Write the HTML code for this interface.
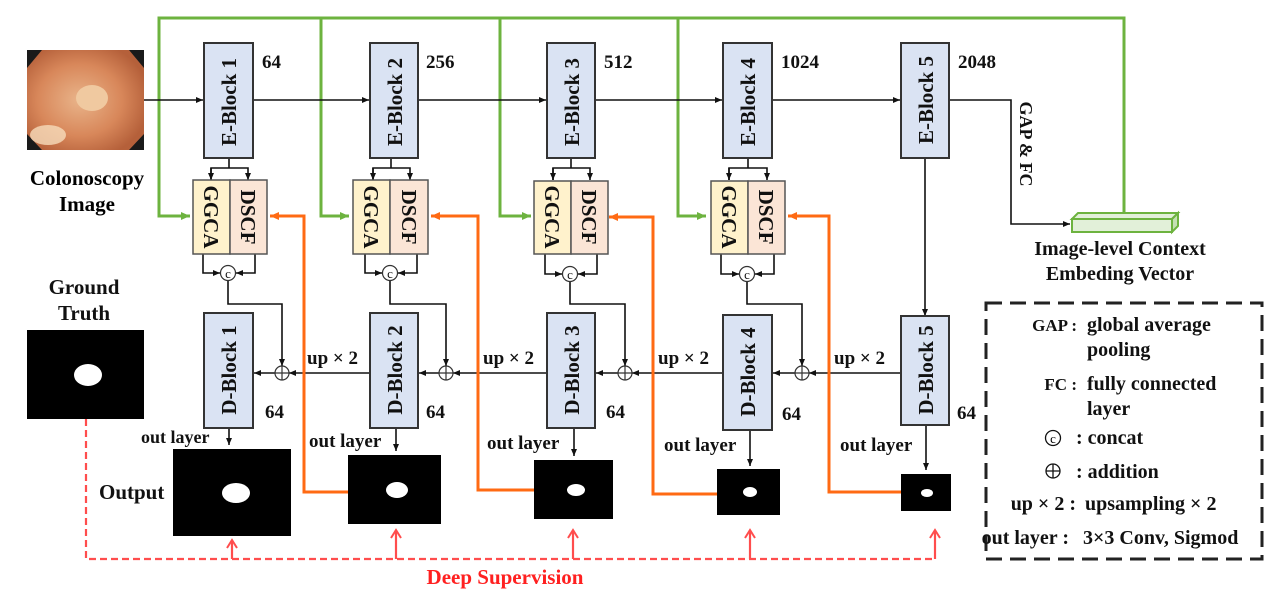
<!DOCTYPE html>
<html><head><meta charset="utf-8"><style>
html,body{margin:0;padding:0;background:#fff;}
svg{display:block;font-family:"Liberation Serif",serif;font-weight:bold;}
</style></head><body>
<svg width="1288" height="594" viewBox="0 0 1288 594" xmlns="http://www.w3.org/2000/svg">
<defs>
<marker id="ab" markerWidth="8" markerHeight="8" refX="7" refY="4" orient="auto" markerUnits="userSpaceOnUse"><path d="M0,1 L7,4 L0,7 z" fill="#111"/></marker>
<marker id="ag" markerWidth="10" markerHeight="10" refX="9" refY="5" orient="auto" markerUnits="userSpaceOnUse"><path d="M0,1 L9,5 L0,9 z" fill="#6db33f"/></marker>
<marker id="ao" markerWidth="10" markerHeight="10" refX="9" refY="5" orient="auto" markerUnits="userSpaceOnUse"><path d="M0,1 L9,5 L0,9 z" fill="#ff6a13"/></marker>
<marker id="ar" markerWidth="12" markerHeight="12" refX="10" refY="6" orient="auto" markerUnits="userSpaceOnUse"><path d="M2,1 L10,6 L2,11" fill="none" stroke="#ff4d4d" stroke-width="2"/></marker>
<radialGradient id="colo" cx="0.45" cy="0.5" r="0.6"><stop offset="0" stop-color="#e9b48a"/><stop offset="0.6" stop-color="#d8875a"/><stop offset="1" stop-color="#b5603a"/></radialGradient>
</defs>

<rect x="27" y="50" width="117" height="100" fill="#1a1a1a"/>
<path d="M42,50 L129,50 L144,68 L144,134 L129,150 L42,150 L27,134 L27,68 z" fill="url(#colo)"/>
<ellipse cx="92" cy="98" rx="16" ry="13" fill="#f0c9a0"/>
<ellipse cx="48" cy="135" rx="18" ry="10" fill="#f6dcbc" opacity="0.8"/>
<text x="87" y="185" font-size="21" text-anchor="middle">Colonoscopy</text>
<text x="87" y="211" font-size="21" text-anchor="middle">Image</text>

<g fill="none" stroke="#6db33f" stroke-width="3">
<polyline points="1124,213 1124,18 159,18 159,216 190,216" marker-end="url(#ag)"/>
<polyline points="321,18 321,216 349,216" marker-end="url(#ag)"/>
<polyline points="500,18 500,216 531,216" marker-end="url(#ag)"/>
<polyline points="678,18 678,216 706,216" marker-end="url(#ag)"/>
</g>

<g fill="none" stroke="#111" stroke-width="1.6">
<line x1="144" y1="100" x2="203" y2="100" marker-end="url(#ab)"/>
<line x1="253" y1="100" x2="369" y2="100" marker-end="url(#ab)"/>
<line x1="418" y1="100" x2="546" y2="100" marker-end="url(#ab)"/>
<line x1="595" y1="100" x2="722" y2="100" marker-end="url(#ab)"/>
<line x1="772" y1="100" x2="900" y2="100" marker-end="url(#ab)"/>
<polyline points="949,100 1011,100 1011,224 1070,224" marker-end="url(#ab)"/>
<line x1="925" y1="158" x2="925" y2="316" marker-end="url(#ab)"/>
</g>

<g stroke="#111" stroke-width="1.6" fill="none">
<polyline points="229,158 229,168"/><polyline points="211,180 211,168 248,168 248,180" marker-end="url(#ab)"/><line x1="211" y1="168" x2="211" y2="180" marker-end="url(#ab)"/>
<polyline points="203,254 203,273 220,273" marker-end="url(#ab)"/><polyline points="255,254 255,273 236,273" marker-end="url(#ab)"/>
<polyline points="228,281 228,304 282,304 282,366" marker-end="url(#ab)"/>
<polyline points="391,158 391,168"/><polyline points="373,180 373,168 410,168 410,180" marker-end="url(#ab)"/><line x1="373" y1="168" x2="373" y2="180" marker-end="url(#ab)"/>
<polyline points="365,254 365,273 382,273" marker-end="url(#ab)"/><polyline points="417,254 417,273 398,273" marker-end="url(#ab)"/>
<polyline points="390,281 390,304 446,304 446,366" marker-end="url(#ab)"/>
<polyline points="571,158 571,168"/><polyline points="553,180 553,168 590,168 590,180" marker-end="url(#ab)"/><line x1="553" y1="168" x2="553" y2="180" marker-end="url(#ab)"/>
<polyline points="545,254 545,274 562,274" marker-end="url(#ab)"/><polyline points="597,254 597,274 578,274" marker-end="url(#ab)"/>
<polyline points="570,282 570,304 625,304 625,366" marker-end="url(#ab)"/>
<polyline points="748,158 748,168"/><polyline points="729,180 729,168 767,168 767,180" marker-end="url(#ab)"/><line x1="729" y1="168" x2="729" y2="180" marker-end="url(#ab)"/>
<polyline points="721,254 721,274 739,274" marker-end="url(#ab)"/><polyline points="774,254 774,274 755,274" marker-end="url(#ab)"/>
<polyline points="747,282 747,304 802,304 802,366" marker-end="url(#ab)"/>
<line x1="901" y1="373" x2="809" y2="373" marker-end="url(#ab)"/>
<line x1="795" y1="373" x2="773" y2="373" marker-end="url(#ab)"/>
<line x1="723" y1="373" x2="632" y2="373" marker-end="url(#ab)"/>
<line x1="618" y1="373" x2="596" y2="373" marker-end="url(#ab)"/>
<line x1="547" y1="373" x2="453" y2="373" marker-end="url(#ab)"/>
<line x1="439" y1="373" x2="419" y2="373" marker-end="url(#ab)"/>
<line x1="370" y1="373" x2="289" y2="373" marker-end="url(#ab)"/>
<line x1="275" y1="373" x2="254" y2="373" marker-end="url(#ab)"/>
<line x1="229" y1="428" x2="229" y2="445" marker-end="url(#ab)"/>
<line x1="396" y1="428" x2="396" y2="451" marker-end="url(#ab)"/>
<line x1="574" y1="428" x2="574" y2="456" marker-end="url(#ab)"/>
<line x1="750" y1="430" x2="750" y2="466" marker-end="url(#ab)"/>
<line x1="926" y1="425" x2="926" y2="470" marker-end="url(#ab)"/>
</g>

<g fill="#fff" stroke="#333" stroke-width="1.2">
<circle cx="228" cy="273" r="7.5"/><circle cx="390" cy="273" r="7.5"/><circle cx="570" cy="274" r="7.5"/><circle cx="747" cy="274" r="7.5"/>
</g>
<g font-size="13" text-anchor="middle" font-weight="normal" fill="#111">
<text x="228" y="278">c</text><text x="390" y="278">c</text><text x="570" y="279">c</text><text x="747" y="279">c</text>
</g>
<g fill="#fff" stroke="#333" stroke-width="1.2">
<circle cx="282" cy="373" r="7"/><circle cx="446" cy="373" r="7"/><circle cx="625" cy="373" r="7"/><circle cx="802" cy="373" r="7"/>
<path d="M275,373h14M282,366v14M439,373h14M446,366v14M618,373h14M625,366v14M795,373h14M802,366v14"/>
</g>

<g fill="none" stroke="#ff6a13" stroke-width="3">
<polyline points="348,492 304,492 304,216 270,216" marker-end="url(#ao)"/>
<polyline points="535,490 478,490 478,216 431,216" marker-end="url(#ao)"/>
<polyline points="717,494 653,494 653,217 609,217" marker-end="url(#ao)"/>
<polyline points="902,492 829,492 829,216 788,216" marker-end="url(#ao)"/>
</g>

<g fill="#dae3f3" stroke="#333" stroke-width="2">
<rect x="204" y="43" width="49" height="115"/><rect x="370" y="43" width="48" height="115"/>
<rect x="547" y="43" width="48" height="115"/><rect x="723" y="43" width="49" height="115"/>
<rect x="901" y="43" width="48" height="115"/>
<rect x="204" y="313" width="49" height="115"/><rect x="370" y="313" width="48" height="115"/>
<rect x="547" y="313" width="48" height="115"/><rect x="723" y="315" width="49" height="115"/>
<rect x="901" y="316" width="48" height="109"/>
</g>
<g font-size="21" text-anchor="middle" fill="#111">
<text transform="translate(236,102) rotate(-90)">E-Block 1</text>
<text transform="translate(402,102) rotate(-90)">E-Block 2</text>
<text transform="translate(579,102) rotate(-90)">E-Block 3</text>
<text transform="translate(755,102) rotate(-90)">E-Block 4</text>
<text transform="translate(933,100) rotate(-90)">E-Block 5</text>
<text transform="translate(236,370) rotate(-90)">D-Block 1</text>
<text transform="translate(402,370) rotate(-90)">D-Block 2</text>
<text transform="translate(579,370) rotate(-90)">D-Block 3</text>
<text transform="translate(755,372) rotate(-90)">D-Block 4</text>
<text transform="translate(933,370) rotate(-90)">D-Block 5</text>
</g>

<g stroke="#555" stroke-width="1.5">
<rect x="193" y="180" width="37" height="74" fill="#fff2cc"/><rect x="230" y="180" width="37" height="74" fill="#fbe5d6"/>
<rect x="353" y="180" width="37" height="74" fill="#fff2cc"/><rect x="390" y="180" width="38" height="74" fill="#fbe5d6"/>
<rect x="534" y="181" width="37" height="73" fill="#fff2cc"/><rect x="571" y="181" width="37" height="73" fill="#fbe5d6"/>
<rect x="711" y="181" width="37" height="73" fill="#fff2cc"/><rect x="748" y="181" width="37" height="73" fill="#fbe5d6"/>
</g>
<g font-size="21" text-anchor="middle" fill="#111">
<text transform="translate(204,217) rotate(90)">GGCA</text><text transform="translate(241,217) rotate(90)">DSCF</text>
<text transform="translate(364,217) rotate(90)">GGCA</text><text transform="translate(402,217) rotate(90)">DSCF</text>
<text transform="translate(545,217) rotate(90)">GGCA</text><text transform="translate(582,217) rotate(90)">DSCF</text>
<text transform="translate(722,217) rotate(90)">GGCA</text><text transform="translate(759,217) rotate(90)">DSCF</text>
<text transform="translate(1020,144) rotate(90)" font-size="18">GAP &amp; FC</text>
</g>

<g font-size="19" fill="#111">
<text x="262" y="68">64</text><text x="426" y="68">256</text><text x="604" y="68">512</text><text x="781" y="68">1024</text><text x="958" y="68">2048</text>
<text x="265" y="418">64</text><text x="426" y="418">64</text><text x="606" y="418">64</text><text x="782" y="420">64</text><text x="957" y="419">64</text>
<text x="307" y="364">up × 2</text><text x="483" y="364">up × 2</text><text x="658" y="364">up × 2</text><text x="834" y="364">up × 2</text>
<text x="141" y="443" font-size="18">out layer</text><text x="309" y="447">out layer</text><text x="487" y="449">out layer</text><text x="664" y="451">out layer</text><text x="840" y="451">out layer</text>
<text x="99" y="499" font-size="21">Output</text>
<text x="84" y="294" font-size="21" text-anchor="middle">Ground</text>
<text x="84" y="320" font-size="21" text-anchor="middle">Truth</text>
</g>

<rect x="27" y="330" width="117" height="89" fill="#000"/><ellipse cx="88" cy="375" rx="14" ry="11" fill="#fff"/>
<rect x="173" y="449" width="118" height="87" fill="#000"/><ellipse cx="236" cy="493" rx="14" ry="10" fill="#fff"/>
<rect x="348" y="455" width="93" height="69" fill="#000"/><ellipse cx="397" cy="490" rx="11" ry="8" fill="#fff"/>
<rect x="534" y="460" width="79" height="59" fill="#000"/><ellipse cx="576" cy="490" rx="9" ry="6" fill="#fff"/>
<rect x="717" y="469" width="63" height="46" fill="#000"/><ellipse cx="750" cy="492" rx="7" ry="5" fill="#fff"/>
<rect x="901" y="474" width="50" height="37" fill="#000"/><ellipse cx="927" cy="493" rx="6" ry="4" fill="#fff"/>

<path d="M1072,219 L1078,213 L1178,213 L1172,219 z" fill="#e2f0d9" stroke="#6db33f" stroke-width="2"/>
<path d="M1172,219 L1178,213 L1178,226 L1172,232 z" fill="#c5e0b4" stroke="#6db33f" stroke-width="2"/>
<rect x="1072" y="219" width="100" height="13" fill="#e2f0d9" stroke="#6db33f" stroke-width="2"/>
<text x="1120" y="255" font-size="20" text-anchor="middle" fill="#111">Image-level Context</text>
<text x="1120" y="280" font-size="20" text-anchor="middle" fill="#111">Embeding Vector</text>

<g fill="none" stroke="#ff4d4d" stroke-width="2.2" stroke-dasharray="7,4">
<polyline points="86,419 86,559 935,559"/>
</g>
<g fill="none" stroke="#ff4d4d" stroke-width="2.2">
<line x1="232" y1="559" x2="232" y2="540" marker-end="url(#ar)"/>
<line x1="396" y1="559" x2="396" y2="530" marker-end="url(#ar)"/>
<line x1="573" y1="559" x2="573" y2="530" marker-end="url(#ar)"/>
<line x1="750" y1="559" x2="750" y2="530" marker-end="url(#ar)"/>
<line x1="935" y1="559" x2="935" y2="530" marker-end="url(#ar)"/>
</g>
<text x="505" y="584" font-size="21" text-anchor="middle" fill="#ff2020">Deep Supervision</text>

<rect x="986" y="303" width="276" height="256" fill="none" stroke="#222" stroke-width="3" stroke-dasharray="16,8"/>
<g font-size="20" fill="#111">
<text x="1077" y="331" text-anchor="end" font-size="17">GAP :</text><text x="1087" y="331">global average</text>
<text x="1087" y="356">pooling</text>
<text x="1077" y="390" text-anchor="end" font-size="17">FC :</text><text x="1087" y="390">fully connected</text>
<text x="1087" y="415">layer</text>
<text x="1076" y="444">: concat</text>
<text x="1076" y="478">: addition</text>
<text x="1076" y="510" text-anchor="end">up × 2 :</text><text x="1085" y="510">upsampling × 2</text>
<text x="1069" y="544" text-anchor="end">out layer :</text><text x="1083" y="544">3×3 Conv, Sigmod</text>
</g>
<circle cx="1053" cy="438" r="7.5" fill="none" stroke="#111" stroke-width="1.3"/><text x="1053" y="443" font-size="13" text-anchor="middle" font-weight="normal">c</text>
<circle cx="1053" cy="471" r="7" fill="none" stroke="#111" stroke-width="1.3"/><path d="M1046,471h14M1053,464v14" stroke="#111" stroke-width="1.3"/>
</svg>
</body></html>
